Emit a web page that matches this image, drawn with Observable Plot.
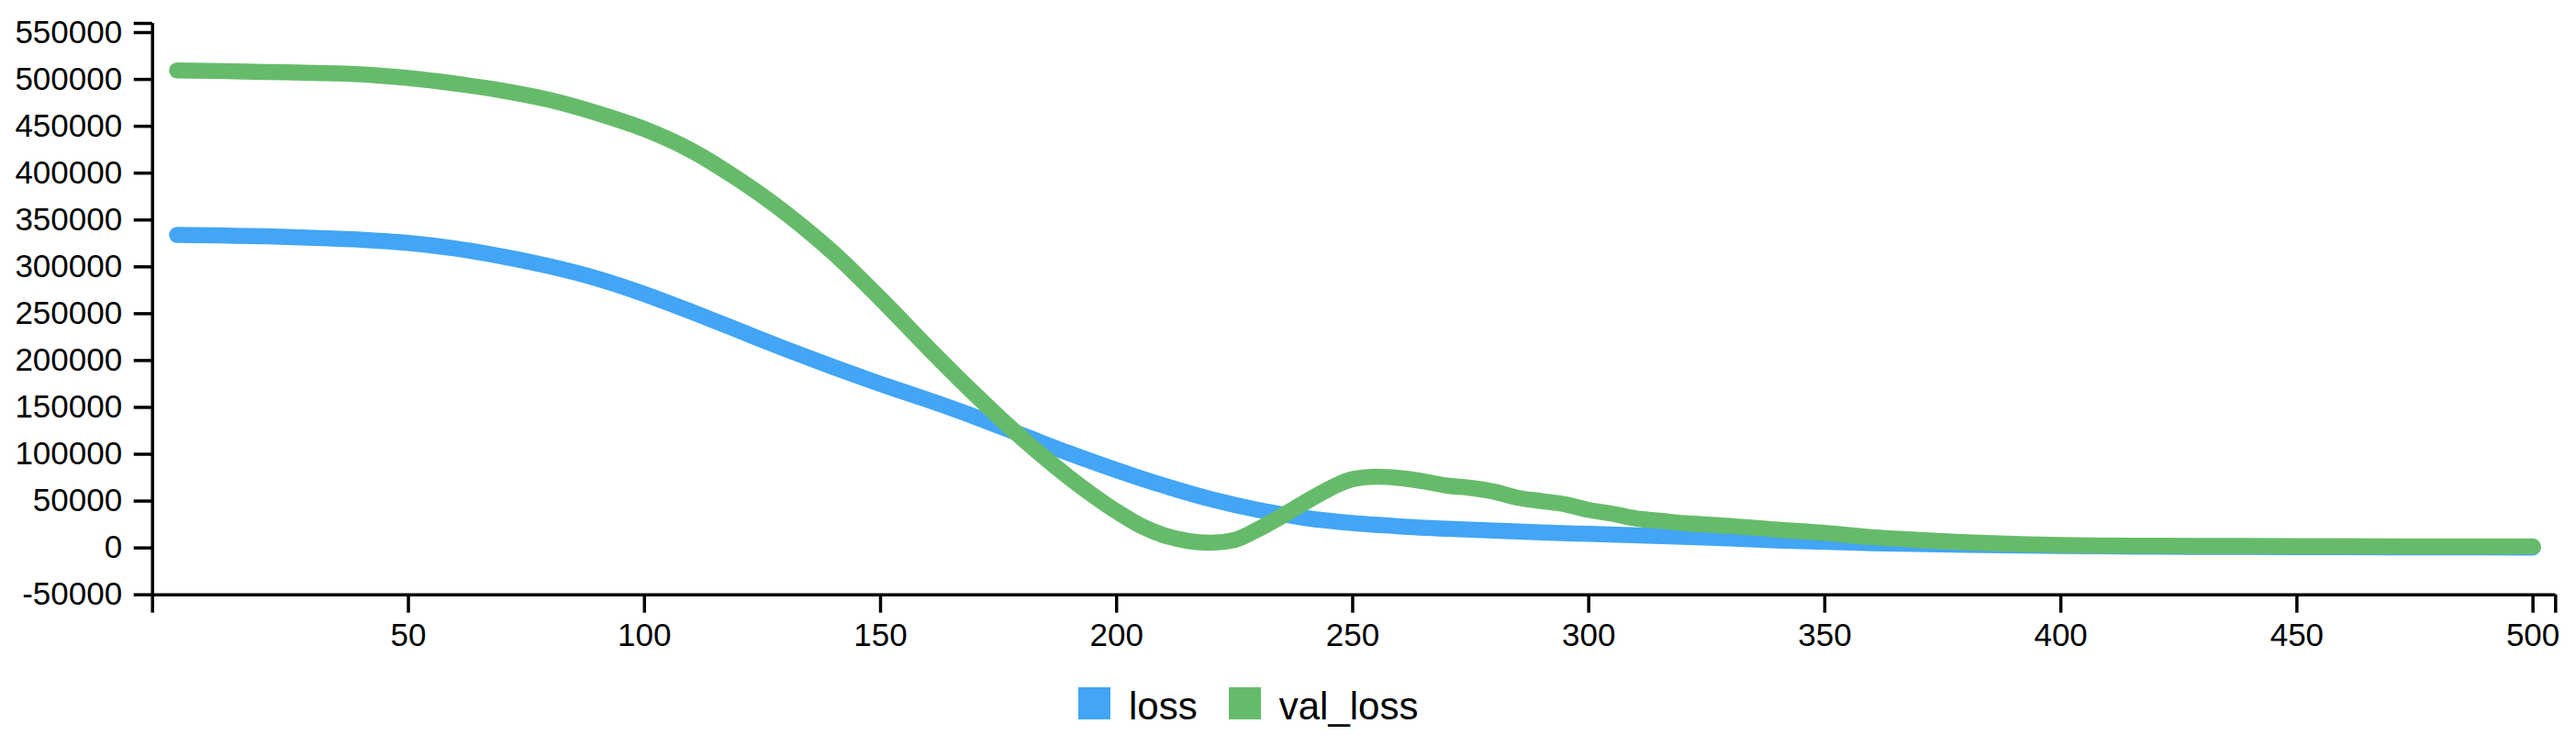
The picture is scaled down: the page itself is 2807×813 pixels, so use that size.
<!DOCTYPE html>
<html>
<head>
<meta charset="utf-8">
<script src="https://cdn.jsdelivr.net/npm/d3@7"></script>
<script src="https://cdn.jsdelivr.net/npm/@observablehq/plot@0.6"></script>
<style>
  html, body { margin: 0; padding: 0; background: #fff; }
  #wrap { position: relative; width: 2807px; height: 813px; font-family: "Liberation Sans", Arial, sans-serif; color: #000; }
  #legend { position: absolute; left: 1175px; top: 749.4px; display: flex; align-items: baseline; font-size: 42px; line-height: 42px; white-space: nowrap; }
  #legend .item { display: inline-flex; align-items: baseline; margin-right: 34px; }
  #legend .sw { display: inline-block; width: 35px; height: 35px; margin-right: 20px; }
</style>
</head>
<body>
<div id="wrap"><div id="chart"></div><div id="legend"></div></div>
<script>
// ---- data ----
const seriesNames = ["loss", "val_loss"];
const seriesColors = ["#42a5f5", "#66bb6a"];

const lossEpochs = [1,10,20,30,40,50,60,70,80,90,100,110,120,130,140,150,160,170,180,190,200,210,220,230,240,250,260,270,280,290,300,320,340,360,380,400,420,440,460,480,500];
const lossValues = [334000,333500,332500,331000,329000,325500,319500,311000,300500,287500,271000,252000,232000,212000,193000,175000,158000,140000,120500,101000,83000,66500,52000,40500,32000,26500,23000,20500,18500,16500,15000,12000,8000,5000,3200,2000,1400,1000,800,600,500];

const valLossEpochs = [1,10,20,30,40,50,60,70,80,90,100,110,120,130,140,150,160,170,180,190,200,205,210,215,220,225,230,235,240,245,250,255,260,265,270,275,280,285,290,295,300,305,310,315,320,330,340,350,360,370,380,390,400,420,440,460,480,500];
const valLossValues = [509500,509000,508000,507000,505500,501500,495500,488000,478000,464000,447000,424000,393000,357000,315000,266000,214000,164000,117000,75000,39000,24000,13500,7500,5500,8500,20000,34000,49000,63000,73500,76000,74500,71000,66500,64000,60000,53500,50000,46500,40500,36500,31500,29000,26500,23500,19500,16000,11500,8500,6000,4200,3000,2300,2000,1800,1600,1500];

const xTicks = [50,100,150,200,250,300,350,400,450,500];
const yTicks = [-50000,0,50000,100000,150000,200000,250000,300000,350000,400000,450000,500000,550000];
const xDomain = [-4.2, 504.8];
const yDomain = [-50000, 559800];

// ---- table for Plot ----
const rows = [
  ...lossEpochs.map((e, i) => ({epoch: e, value: lossValues[i], series: seriesNames[0]})),
  ...valLossEpochs.map((e, i) => ({epoch: e, value: valLossValues[i], series: seriesNames[1]}))
];

const chart = Plot.plot({
  width: 2807,
  height: 700,
  marginLeft: 165.7,
  marginRight: 22.7,
  marginTop: 25,
  marginBottom: 52.3,
  style: {fontFamily: '"Liberation Sans", Arial, sans-serif', fontSize: "35px", color: "#000", background: "#fff", overflow: "visible"},
  x: {domain: xDomain},
  y: {domain: yDomain},
  color: {domain: seriesNames, range: seriesColors},
  marks: [
    Plot.axisY({ticks: yTicks, tickSize: 20, tickPadding: 13, strokeWidth: 3.5, fontSize: 35, tickFormat: d => String(d), label: null}),
    Plot.axisY({ticks: [yDomain[1]], tickSize: 20, strokeWidth: 3.5, tickFormat: () => "", label: null}),
    Plot.axisX({ticks: xTicks, tickSize: 20, tickPadding: 11, strokeWidth: 3.5, fontSize: 35, tickFormat: d => String(d), label: null}),
    Plot.axisX({ticks: xDomain, tickSize: 20, strokeWidth: 3.5, tickFormat: () => "", label: null}),
    Plot.ruleX([xDomain[0]], {stroke: "#000", strokeWidth: 3.5}),
    Plot.ruleY([yDomain[0]], {stroke: "#000", strokeWidth: 3.5}),
    Plot.line(rows, {x: "epoch", y: "value", z: "series", stroke: "series", strokeWidth: 17.5, strokeLinecap: "round", strokeLinejoin: "round", curve: "monotone-x"})
  ]
});
document.getElementById("chart").appendChild(chart);

// ---- legend ----
const legend = document.getElementById("legend");
seriesNames.forEach((name, i) => {
  const item = document.createElement("span");
  item.className = "item";
  const sw = document.createElement("span");
  sw.className = "sw";
  sw.style.background = seriesColors[i];
  const label = document.createElement("span");
  label.textContent = name;
  item.appendChild(sw);
  item.appendChild(label);
  legend.appendChild(item);
});
</script>
</body>
</html>
